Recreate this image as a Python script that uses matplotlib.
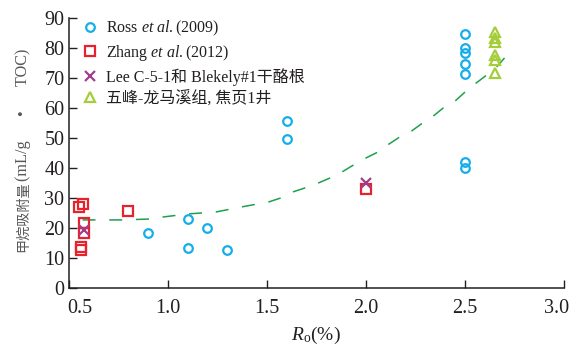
import numpy as np
import matplotlib
matplotlib.use('Agg')
import matplotlib.pyplot as plt
import matplotlib.transforms as mtransforms

plt.rcParams['font.family'] = ['Liberation Serif', 'Noto Sans CJK SC']
plt.rcParams['mathtext.fontset'] = 'custom'
plt.rcParams['mathtext.rm'] = 'Liberation Serif'
plt.rcParams['mathtext.it'] = 'Liberation Serif:italic'

# Ross et al.(2009)
ross_ro = [0.90, 1.10, 1.10, 1.20, 1.30, 1.60, 1.60, 2.50, 2.50, 2.50, 2.50, 2.50, 2.50, 2.50]
ross_ads = [18.3, 23.0, 13.3, 20.0, 12.7, 55.7, 49.7, 84.7, 80.0, 78.5, 74.8, 71.3, 42.0, 40.0]

# Zhang et al.(2012)
zhang_ro = [0.57, 0.55, 0.58, 0.58, 0.56, 0.56, 0.80, 2.00]
zhang_ads = [28.0, 27.0, 21.7, 18.3, 13.7, 12.7, 25.7, 33.0]

# Lee C-5-1 / Blekely#1
lee_ro = [0.58, 2.00]
lee_ads = [19.3, 35.0]

# Wufeng-Longmaxi, JY1 well
wf_ro = [2.65, 2.65, 2.65, 2.65, 2.65, 2.65]
wf_ads = [85.3, 83.3, 82.0, 77.7, 76.0, 71.7]

# trend line
trend_ro = [0.57, 0.77, 0.91, 0.98, 1.10, 1.24, 1.37, 1.51, 1.57, 1.63, 1.69, 1.76,
            1.82, 1.88, 1.93, 1.99, 2.06, 2.11, 2.17, 2.23, 2.28, 2.34, 2.39, 2.45,
            2.50, 2.55, 2.61, 2.66, 2.70]
trend_ads = [22.7, 22.7, 23.0, 23.7, 24.7, 25.3, 27.0, 28.7, 30.0, 32.0, 33.3, 35.0,
             36.7, 38.7, 40.7, 43.0, 45.3, 47.7, 50.3, 52.3, 54.7, 57.3, 60.0, 62.3,
             65.3, 68.0, 71.0, 73.7, 76.7]

xticks = [0.5, 1.0, 1.5, 2.0, 2.5, 3.0]
yticks = [0, 10, 20, 30, 40, 50, 60, 70, 80, 90]

axis_color = '#231F20'
label_color = '#595757'

fig = plt.figure(figsize=(5.72, 3.47), dpi=100)
ax = fig.add_axes([0.12, 0.17, 0.866, 0.778])

ax.plot(trend_ro, trend_ads, color='#1FA04A', lw=1.1, dashes=(8.5, 9.0), zorder=2)

ax.plot(ross_ro, ross_ads, 'o', ls='none', ms=6.2, mfc='none', mec='#16AEEA', mew=1.6,
        label=r'Ross $\mathit{et\ al.}$(2009)', zorder=3)
ax.plot(zhang_ro, zhang_ads, 's', ls='none', ms=6.8, mfc='none', mec='#E8222C', mew=1.6,
        label=r'Zhang $\mathit{et\ al.}$(2012)', zorder=3)
ax.plot(lee_ro, lee_ads, 'x', ls='none', ms=7, mec='#9E3F8C', mew=1.6,
        label='Lee C-5-1和 Blekely#1干酪根', zorder=4)
ax.plot(wf_ro, wf_ads, '^', ls='none', ms=7.5, mfc='none', mec='#A5CD39', mew=1.6,
        label='五峰-龙马溪组, 焦页1井', zorder=3)

ax.set_xlim(0.5, 3.0)
ax.set_ylim(0, 90)
ax.set_xticks(xticks)
ax.set_xticklabels(['%.1f' % v for v in xticks])
ax.set_yticks(yticks)

for side in ['top', 'right']:
    ax.spines[side].set_visible(False)
for side in ['left', 'bottom']:
    ax.spines[side].set_linewidth(1.1)
    ax.spines[side].set_color(axis_color)

ax.tick_params(direction='in', length=6, width=1.0, color=axis_color,
               labelsize=14.5, labelcolor=axis_color)
ax.tick_params(axis='x', pad=8)
ax.tick_params(axis='y', pad=3)

# keep the end labels inside the figure
labels = ax.get_xticklabels()
labels[0].set_transform(labels[0].get_transform() +
                        mtransforms.ScaledTranslation(8 / 72, 0, fig.dpi_scale_trans))
labels[-1].set_transform(labels[-1].get_transform() +
                         mtransforms.ScaledTranslation(-5 / 72, 0, fig.dpi_scale_trans))

ax.set_xlabel(r'$\mathit{R}_{\mathrm{o}}$(%)', fontsize=14, color=axis_color, labelpad=5)

# y label: Chinese part a bit smaller than the latin unit part
renderer = fig.canvas.get_renderer()
base_x = 27 / 572
t1 = fig.text(base_x, (347 - 252) / 347, '甲烷吸附量', rotation=90, rotation_mode='anchor',
              ha='left', va='baseline', fontsize=10.2, color=label_color)
top = t1.get_window_extent(renderer).y1
fig.text(base_x, top / fig.bbox.height, '(mL/g\u2003\u2002•\u2003\u2002TOC)', rotation=90,
         rotation_mode='anchor', ha='left', va='baseline', fontsize=11.7, color=label_color)

leg = ax.legend(loc='upper left', bbox_to_anchor=(0.01, 1.02), frameon=False,
                fontsize=11.5, handletextpad=0.42, labelspacing=0.3, handlelength=1.2,
                borderaxespad=0)
for t in leg.get_texts():
    t.set_color(axis_color)

fig.savefig('out.png', dpi=100)
